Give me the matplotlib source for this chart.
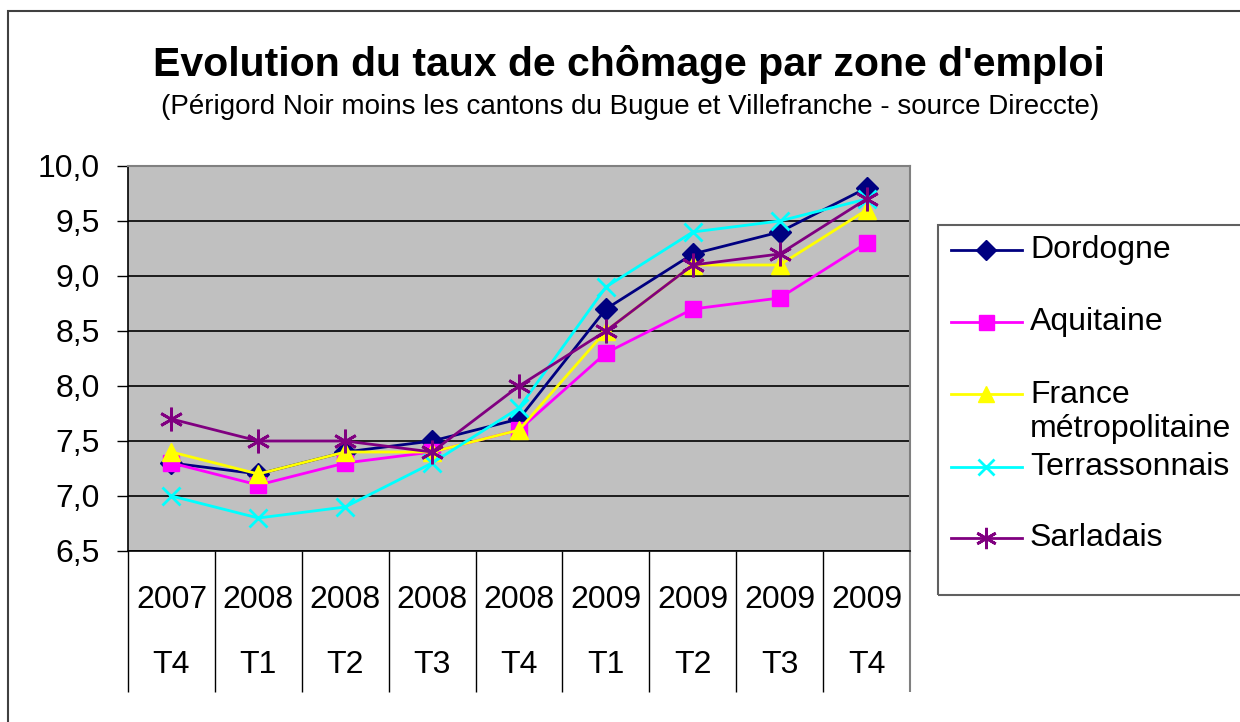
import matplotlib
matplotlib.use("Agg")
import matplotlib.pyplot as plt
from matplotlib.lines import Line2D
from matplotlib.patches import Rectangle

plt.rcParams['font.family'] = ['Liberation Sans', 'DejaVu Sans']

years = ["2007", "2008", "2008", "2008", "2008", "2009", "2009", "2009", "2009"]
quarters = ["T4", "T1", "T2", "T3", "T4", "T1", "T2", "T3", "T4"]

dordogne = [7.3, 7.2, 7.4, 7.5, 7.7, 8.7, 9.2, 9.4, 9.8]
aquitaine = [7.3, 7.1, 7.3, 7.4, 7.6, 8.3, 8.7, 8.8, 9.3]
france = [7.4, 7.2, 7.4, 7.4, 7.6, 8.5, 9.1, 9.1, 9.6]
terrassonnais = [7.0, 6.8, 6.9, 7.3, 7.8, 8.9, 9.4, 9.5, 9.7]
sarladais = [7.7, 7.5, 7.5, 7.4, 8.0, 8.5, 9.1, 9.2, 9.7]

series = [
    ("Dordogne", dordogne, "#000080", "D", 11, 1),
    ("Aquitaine", aquitaine, "#FF00FF", "s", 12, 1),
    ("France\nmétropolitaine", france, "#FFFF00", "^", 13, 1),
    ("Terrassonnais", terrassonnais, "#00FFFF", "x", 13, 2),
    ("Sarladais", sarladais, "#800080", (6, 2, 0), 17, 2),
]

W, H = 1240, 722
fig = plt.figure(figsize=(W / 100, H / 100), dpi=100)

def fx(px):
    return px / W

def fy(py):
    return 1 - py / H

# outer frame
fig.add_artist(Rectangle((fx(8), fy(800)), fx(1300), fy(11) - fy(800),
                         transform=fig.transFigure, fill=False,
                         edgecolor="#404040", linewidth=1.5))

ax = fig.add_axes([fx(128), fy(551), fx(910) - fx(128), fy(166) - fy(551)])
ax.set_facecolor("#C0C0C0")

x = [i + 0.5 for i in range(len(years))]
for name, vals, col, mk, ms, mew in series:
    ax.plot(x, vals, color=col, marker=mk, markersize=ms, markeredgewidth=mew,
            linewidth=2, markeredgecolor=col, markerfacecolor=col, clip_on=False)

ax.set_xlim(0, 9)
ax.set_ylim(6.5, 10.0)
yt = [6.5, 7.0, 7.5, 8.0, 8.5, 9.0, 9.5, 10.0]
ax.set_yticks(yt)
ax.set_yticklabels([f"{v:.1f}".replace(".", ",") for v in yt], fontsize=23)
ax.yaxis.grid(True, color="black", linewidth=1.2)
ax.set_axisbelow(True)
ax.tick_params(axis="y", length=8, width=1, pad=12)
ax.set_xticks([])
for s in ["top", "right"]:
    ax.spines[s].set_color("#808080")
    ax.spines[s].set_linewidth(1.5)
for s in ["left", "bottom"]:
    ax.spines[s].set_color("black")
    ax.spines[s].set_linewidth(1.2)

# category table under the axis
tr = ax.get_xaxis_transform()
ax.vlines(range(0, 9), 0, -0.366, transform=tr, colors="black", linewidth=1, clip_on=False)
ax.vlines([9], 0, -0.366, transform=tr, colors="#808080", linewidth=1.5, clip_on=False)
for i, (yr, q) in enumerate(zip(years, quarters)):
    ax.text(i + 0.5, -0.127, yr, transform=tr, ha="center", va="center", fontsize=23)
    ax.text(i + 0.5, -0.296, q, transform=tr, ha="center", va="center", fontsize=23)

fig.text(fx(629), fy(65), "Evolution du taux de chômage par zone d'emploi",
         ha="center", va="center", fontsize=29.5, fontweight="bold")
fig.text(fx(630), fy(107),
         "(Périgord Noir moins les cantons du Bugue et Villefranche - source Direccte)",
         ha="center", va="center", fontsize=20)

# legend box
fig.add_artist(Rectangle((fx(938), fy(595)), fx(400), fy(225) - fy(595),
                         transform=fig.transFigure, fill=False,
                         edgecolor="#606060", linewidth=1.5))
leg_y = [250, 322, 394, 467, 538]
for (name, vals, col, mk, ms, mew), py in zip(series, leg_y):
    fig.add_artist(Line2D([fx(951), fx(1022)], [fy(py), fy(py)], transform=fig.transFigure,
                          color=col, linewidth=2))
    fig.add_artist(Line2D([fx(986)], [fy(py)], transform=fig.transFigure, color=col,
                          marker=mk, markersize=ms * 0.9, markeredgewidth=mew,
                          markerfacecolor=col, markeredgecolor=col))
    ty = py + 18 if "\n" in name else py
    fig.text(fx(1030), fy(ty), name, ha="left", va="center",
             fontsize=23, linespacing=1.15)

fig.savefig("out.png", dpi=100)
